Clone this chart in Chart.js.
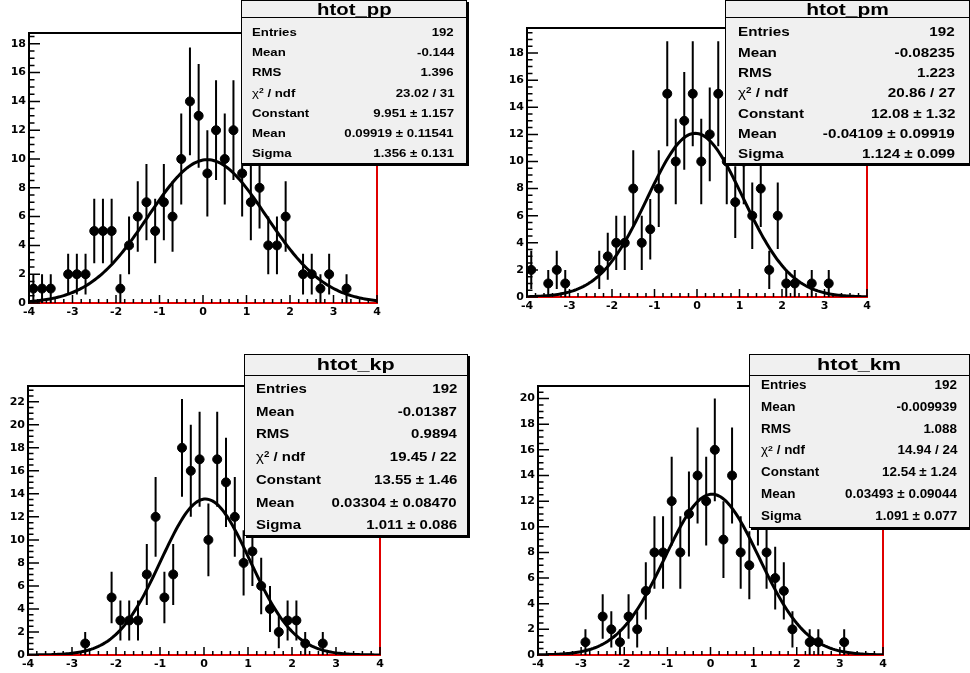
<!DOCTYPE html>
<html>
<head>
<meta charset="utf-8">
<script src="https://cdn.jsdelivr.net/npm/chart.js@4.4.1/dist/chart.umd.min.js"></script>
<style>
  html, body { margin: 0; padding: 0; background: #fff; }
  #page { position: relative; width: 970px; height: 673px; overflow: hidden; }
  #page canvas { position: absolute; left: 0; top: 0; }
  .stats {
    position: absolute; box-sizing: border-box;
    background: #f0f0f0; border: 1px solid #000; box-shadow: 2px 2px 0 #000;
    font-family: "Liberation Sans", Arial, sans-serif; font-weight: bold; color: #000;
  }
  .stats .title { position: absolute; left: 0; right: 0; top: 0; text-align: center; border-bottom: 1px solid #000; }
  .stats .title span { display: inline-block; transform-origin: center; }
  .stats .row { position: absolute; white-space: nowrap; }
  .stats .lab { position: absolute; left: 0; top: 0; display: inline-block; transform-origin: left center; }
  .stats .val { position: absolute; right: 0; top: 0; display: inline-block; transform-origin: right center; }
</style>
</head>
<body>
<div id="page"></div>
<script>
// ===== DATA (bin centres, bin contents, fit results) =====

const histNames = ["htot_pp", "htot_pm", "htot_kp", "htot_km"];

const ppBins = [-3.9, -3.7, -3.5, -3.1, -2.9, -2.7, -2.5, -2.3, -2.1, -1.9, -1.7, -1.5, -1.3, -1.1, -0.9, -0.7, -0.5, -0.3, -0.1,
                0.1, 0.3, 0.5, 0.7, 0.9, 1.1, 1.3, 1.5, 1.7, 1.9, 2.3, 2.5, 2.7, 2.9, 3.3];
const ppCounts = [1, 1, 1, 2, 2, 2, 5, 5, 5, 1, 4, 6, 7, 5, 7, 6, 10, 14, 13,
                  9, 12, 10, 12, 9, 7, 8, 4, 4, 6, 2, 2, 1, 2, 1];

const pmBins = [-3.9, -3.5, -3.3, -3.1, -2.3, -2.1, -1.9, -1.7, -1.5, -1.3, -1.1, -0.9, -0.7, -0.5, -0.3, -0.1,
                0.1, 0.3, 0.5, 0.7, 0.9, 1.1, 1.3, 1.5, 1.7, 1.9, 2.1, 2.3, 2.7, 3.1];
const pmCounts = [2, 1, 2, 1, 2, 3, 4, 4, 8, 4, 5, 8, 15, 10, 13, 15,
                  10, 12, 15, 10, 7, 10, 6, 8, 2, 6, 1, 1, 1, 1];

const kpBins = [-2.7, -2.1, -1.9, -1.7, -1.5, -1.3, -1.1, -0.9, -0.7, -0.5, -0.3, -0.1,
                0.1, 0.3, 0.5, 0.7, 0.9, 1.1, 1.3, 1.5, 1.7, 1.9, 2.1, 2.3, 2.7];
const kpCounts = [1, 5, 3, 3, 3, 7, 12, 5, 7, 18, 16, 17,
                  10, 17, 15, 12, 8, 9, 6, 4, 2, 3, 3, 1, 1];

const kmBins = [-2.9, -2.5, -2.3, -2.1, -1.9, -1.7, -1.5, -1.3, -1.1, -0.9, -0.7, -0.5, -0.3, -0.1,
                0.1, 0.3, 0.5, 0.7, 0.9, 1.1, 1.3, 1.5, 1.7, 1.9, 2.3, 2.5, 3.1];
const kmCounts = [1, 3, 2, 1, 3, 2, 5, 8, 8, 12, 8, 11, 14, 12,
                  16, 9, 14, 8, 7, 12, 8, 6, 5, 2, 1, 1, 1];

const fitConstants = [9.951, 12.08, 13.55, 12.54];
const fitMeans = [0.09919, -0.04109, 0.03304, 0.03493];
const fitSigmas = [1.356, 1.124, 1.011, 1.091];

const yMax = [18.75, 19.85, 23.37, 20.98];
const xTicks = [-4, -3, -2, -1, 0, 1, 2, 3, 4];

const statEntries = ["192", "192", "192", "192"];
const statMean = ["-0.144", "-0.08235", "-0.01387", "-0.009939"];
const statRms = ["1.396", "1.223", "0.9894", "1.088"];
const statChi2 = ["23.02 / 31", "20.86 / 27", "19.45 / 22", "14.94 / 24"];
const statConstant = ["9.951 \u00b1 1.157", "12.08 \u00b1 1.32", "13.55 \u00b1 1.46", "12.54 \u00b1 1.24"];
const statFitMean = ["0.09919 \u00b1 0.11541", "-0.04109 \u00b1 0.09919", "0.03304 \u00b1 0.08470", "0.03493 \u00b1 0.09044"];
const statSigma = ["1.356 \u00b1 0.131", "1.124 \u00b1 0.099", "1.011 \u00b1 0.086", "1.091 \u00b1 0.077"];

const allBins = [ppBins, pmBins, kpBins, kmBins];
const allCounts = [ppCounts, pmCounts, kpCounts, kmCounts];

// ===== LAYOUT =====

const W = 970, H = 673;
const frames = [
    { l: 29, t: 33, r: 377, b: 303 },
    { l: 527, t: 28, r: 867, b: 297 },
    { l: 28, t: 386, r: 380, b: 655 },
    { l: 538, t: 386, r: 883, b: 655 }
];
const boxes = [
    { l: 241, t: 0, r: 467, b: 164, head: 17, titleLh: 17, tsize: 16, row0: 32, step: 20.17, size: 11.8, lpad: 10, rpad: 12 },
    { l: 725, t: 0, r: 970, b: 164, head: 17, titleLh: 17, tsize: 16.5, row0: 32.3, step: 20.3, size: 13.6, lpad: 12, rpad: 14 },
    { l: 244, t: 354, r: 468, b: 536, head: 21, titleLh: 19, tsize: 17, row0: 389, step: 22.7, size: 13.4, lpad: 11, rpad: 10 },
    { l: 749, t: 354, r: 970, b: 528, head: 21, titleLh: 19, tsize: 17, row0: 385, step: 21.8, size: 12, lpad: 11, rpad: 12 }
];
const Y_AXIS_W = 26, X_AXIS_H = 20;
const tickFont = { family: "'DejaVu Sans', sans-serif", weight: "bold", size: 11 };

function gauss(i, x) {
    const z = (x - fitMeans[i]) / fitSigmas[i];
    return fitConstants[i] * Math.exp(-0.5 * z * z);
}

// ===== ROOT-LIKE FRAME, TICKS AND ERROR BARS =====

const rootFrame = {
    id: "rootFrame",
    beforeDatasetsDraw(chart) {
        const ctx = chart.ctx;
        const a = chart.chartArea;
        const xs = chart.scales.x, ys = chart.scales.y;
        const counts = chart.options.plugins.rootFrame.counts;

        ctx.save();
        // frame
        ctx.strokeStyle = "#000";
        ctx.lineWidth = 2;
        ctx.strokeRect(a.left, a.top, a.right - a.left, a.bottom - a.top);
        // red histogram outline along bottom and right edge
        ctx.strokeStyle = "#e00000";
        ctx.beginPath();
        ctx.moveTo(a.left, a.bottom);
        ctx.lineTo(a.right, a.bottom);
        ctx.lineTo(a.right, a.top);
        ctx.stroke();

        // ticks, drawn inside the frame
        ctx.strokeStyle = "#000";
        ctx.lineWidth = 1.5;
        ctx.beginPath();
        for (let v = xs.min; v <= xs.max + 1e-6; v += 0.2) {
            const px = xs.getPixelForValue(v);
            const major = Math.abs(v - Math.round(v)) < 1e-6;
            ctx.moveTo(px, a.bottom);
            ctx.lineTo(px, a.bottom - (major ? 8 : 4));
        }
        for (let v = 0; v <= ys.max + 1e-6; v += 0.5) {
            const py = ys.getPixelForValue(v);
            const major = Math.abs(v / 2 - Math.round(v / 2)) < 1e-6;
            ctx.moveTo(a.left, py);
            ctx.lineTo(a.left + (major ? 11 : 5.5), py);
        }
        ctx.stroke();

        // sqrt(N) error bars
        const meta = chart.getDatasetMeta(1);
        ctx.lineWidth = 2;
        ctx.beginPath();
        meta.data.forEach((el, k) => {
            const n = counts[k];
            const e = Math.sqrt(n);
            ctx.moveTo(el.x, ys.getPixelForValue(n + e));
            ctx.lineTo(el.x, ys.getPixelForValue(n - e));
        });
        ctx.stroke();
        ctx.restore();
    }
};

// ===== PANELS =====

function makePanel(i) {
    const f = frames[i];
    const bins = allBins[i];
    const counts = allCounts[i];

    const canvas = document.createElement("canvas");
    canvas.width = W;
    canvas.height = H;
    document.getElementById("page").appendChild(canvas);

    const curve = [];
    for (let k = 0; k <= 200; k++) {
        const x = -4 + k * 0.04;
        curve.push({ x: x, y: gauss(i, x) });
    }

    new Chart(canvas, {
        type: "scatter",
        data: {
            datasets: [
                {
                    type: "line",
                    data: curve,
                    borderColor: "#000",
                    borderWidth: 3,
                    pointRadius: 0,
                    tension: 0,
                    fill: false,
                    order: 0
                },
                {
                    data: bins.map((x, k) => ({ x: x, y: counts[k] })),
                    backgroundColor: "#000",
                    borderColor: "#000",
                    pointRadius: 4.5,
                    pointHoverRadius: 4.5,
                    order: 1
                }
            ]
        },
        options: {
            responsive: false,
            animation: false,
            devicePixelRatio: 1,
            events: [],
            layout: {
                padding: {
                    left: f.l - Y_AXIS_W,
                    top: f.t,
                    right: W - f.r,
                    bottom: H - f.b - X_AXIS_H
                }
            },
            plugins: {
                legend: { display: false },
                tooltip: { enabled: false },
                rootFrame: { counts: counts }
            },
            scales: {
                x: {
                    type: "linear",
                    min: -4,
                    max: 4,
                    grid: { display: false, drawTicks: false },
                    border: { display: false },
                    afterBuildTicks: (s) => { s.ticks = xTicks.map(v => ({ value: v })); },
                    afterFit: (s) => { s.height = X_AXIS_H; },
                    ticks: { color: "#000", font: tickFont, padding: 3, autoSkip: false, maxRotation: 0 }
                },
                y: {
                    min: 0,
                    max: yMax[i],
                    grid: { display: false, drawTicks: false },
                    border: { display: false },
                    afterFit: (s) => { s.width = Y_AXIS_W; },
                    ticks: { color: "#000", font: tickFont, padding: 3, stepSize: 2, includeBounds: false }
                }
            }
        },
        plugins: [rootFrame]
    });
}

// ===== STAT BOXES =====

function makeStats(i) {
    const b = boxes[i];
    const box = document.createElement("div");
    box.className = "stats";
    box.style.left = b.l + "px";
    box.style.top = b.t + "px";
    box.style.width = (b.r - b.l) + "px";
    box.style.height = (b.b - b.t) + "px";

    const title = document.createElement("div");
    title.className = "title";
    title.style.height = (b.head - 1) + "px";
    title.style.lineHeight = b.titleLh + "px";
    title.innerHTML = '<span style="font-size:' + b.tsize + 'px;transform:scaleX(1.27)">' + histNames[i] + "</span>";
    box.appendChild(title);

    const chiLabel = '<span style="font-weight:normal">\u03c7</span>' +
        '<span style="font-size:0.65em;position:relative;top:-0.5em">2</span> / ndf';
    const rows = [
        ["Entries", statEntries[i]],
        ["Mean", statMean[i]],
        ["RMS", statRms[i]],
        [chiLabel, statChi2[i]],
        ["Constant", statConstant[i]],
        ["Mean", statFitMean[i]],
        ["Sigma", statSigma[i]]
    ];
    const lh = 16;
    rows.forEach((r, k) => {
        const row = document.createElement("div");
        row.className = "row";
        const cy = b.row0 + k * b.step - b.t - 1;
        row.style.top = (cy - lh / 2) + "px";
        row.style.left = b.lpad + "px";
        row.style.right = b.rpad + "px";
        row.style.height = lh + "px";
        row.style.lineHeight = lh + "px";
        row.style.fontSize = b.size + "px";
        row.innerHTML = '<span class="lab" style="transform:scaleX(1.12)">' + r[0] + "</span>" +
                        '<span class="val" style="transform:scaleX(1.12)">' + r[1] + "</span>";
        box.appendChild(row);
    });

    document.getElementById("page").appendChild(box);
}

for (let i = 0; i < 4; i++) {
    makePanel(i);
}
for (let i = 0; i < 4; i++) {
    makeStats(i);
}
</script>
</body>
</html>
